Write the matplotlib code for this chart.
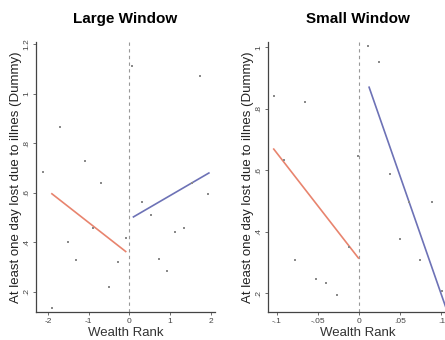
import numpy as np
import matplotlib
matplotlib.use("Agg")
import matplotlib.pyplot as plt

plt.rcParams['font.family'] = ['Liberation Sans', 'DejaVu Sans']

# Large window: wealth rank vs. illness dummy (binned means)
large_x = [-2.12, -1.70, -1.90, -1.50, -1.30, -1.09, -0.90, -0.70, -0.50, -0.29, -0.09,
           0.07, 0.31, 0.52, 0.73, 0.92, 1.12, 1.33, 1.53, 1.72, 1.93]
large_y = [0.686, 0.867, 0.135, 0.400, 0.328, 0.727, 0.458, 0.638, 0.220, 0.322, 0.418,
           1.114, 0.563, 0.509, 0.333, 0.282, 0.440, 0.457, 0.638, 1.073, 0.595]
# fitted lines (intercept, slope) on each side of the cutoff
large_left_fit = (0.351, -0.129)
large_right_fit = (0.493, 0.096)
large_left_range = (-1.90, -0.09)
large_right_range = (0.10, 1.95)

# Small window
small_x = [-0.104, -0.066, -0.092, -0.078, -0.053, -0.040, -0.027, -0.013, -0.001,
           0.011, 0.024, 0.037, 0.049, 0.061, 0.074, 0.088, 0.101]
small_y = [0.842, 0.822, 0.633, 0.308, 0.247, 0.232, 0.194, 0.350, 0.646,
           1.004, 0.951, 0.587, 0.376, 0.498, 0.308, 0.496, 0.207]
small_left_fit = (0.311, -3.44)
small_right_fit = (0.962, -7.67)
small_left_range = (-0.104, -0.001)
small_right_range = (0.012, 0.105)

large_xticks = [-2, -1, 0, 1, 2]
large_xlabels = ['-2', '-1', '0', '1', '2']
large_yticks = [0.2, 0.4, 0.6, 0.8, 1.0, 1.2]
large_ylabels = ['.2', '.4', '.6', '.8', '1', '1.2']
small_xticks = [-0.1, -0.05, 0, 0.05, 0.1]
small_xlabels = ['-.1', '-.05', '0', '.05', '.1']
small_yticks = [0.2, 0.4, 0.6, 0.8, 1.0]
small_ylabels = ['.2', '.4', '.6', '.8', '1']

RED = '#e8846e'
BLUE = '#6d72b6'
W, H = 445, 340


def draw_panel(ax, x, y, lfit, rfit, lrange, rrange, xt, xl, yt, yl, title):
    ax.axvline(0, color='#999999', lw=0.8, ls=(0, (3, 3)))
    ax.scatter(x, y, s=3, color='#8a8a8a', marker='s', lw=0, zorder=3)
    xs = np.array(lrange)
    ax.plot(xs, lfit[0] + lfit[1] * xs, color=RED, lw=1.2)
    xs = np.array(rrange)
    ax.plot(xs, rfit[0] + rfit[1] * xs, color=BLUE, lw=1.2)
    ax.set_xticks(xt)
    ax.set_xticklabels(xl)
    ax.set_yticks(yt)
    ax.set_yticklabels(yl, rotation=90, va='center')
    ax.tick_params(labelsize=6, length=2.5, width=0.6, color='#555555',
                   labelcolor='#444444', pad=1.5)
    for s in ['top', 'right']:
        ax.spines[s].set_visible(False)
    for s in ['left', 'bottom']:
        ax.spines[s].set_linewidth(0.9)
        ax.spines[s].set_color('#444444')
    ax.set_xlabel('Wealth Rank', fontsize=9.5, color='#333333', labelpad=2)
    ax.set_ylabel('At least one day lost due to illnes (Dummy)', fontsize=9.5,
                  color='#222222', labelpad=1)
    ax.set_title(title, fontsize=11, fontweight='bold', pad=14)


fig = plt.figure(figsize=(W / 100, H / 100), dpi=100)
ax1 = fig.add_axes([36 / W, 28 / H, (215 - 36) / W, (312 - 42) / H])
ax2 = fig.add_axes([268 / W, 28 / H, (448 - 268) / W, (312 - 42) / H])

draw_panel(ax1, large_x, large_y, large_left_fit, large_right_fit,
           large_left_range, large_right_range,
           large_xticks, large_xlabels, large_yticks, large_ylabels, 'Large Window')
ax1.set_xlim(-2.29, 2.1)
ax1.set_ylim(0.118, 1.21)

draw_panel(ax2, small_x, small_y, small_left_fit, small_right_fit,
           small_left_range, small_right_range,
           small_xticks, small_xlabels, small_yticks, small_ylabels, 'Small Window')
ax2.set_xlim(-0.111, 0.108)
ax2.set_ylim(0.139, 1.017)

fig.savefig('out.png', dpi=100)
